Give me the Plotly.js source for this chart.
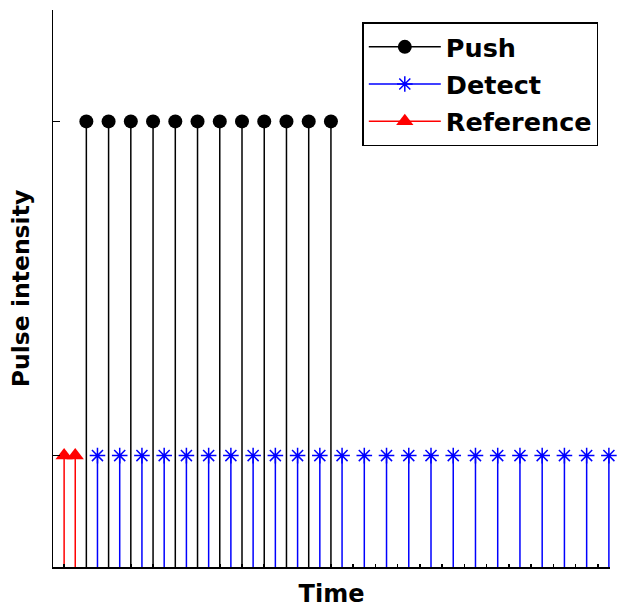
<!DOCTYPE html>
<html>
<head>
<meta charset="utf-8">
<script src="https://cdn.plot.ly/plotly-3.0.1.min.js"></script>
<style>
  html, body { margin: 0; padding: 0; background: #fff; }
  #graph { width: 624px; height: 614px; }
</style>
</head>
<body>
<div id="graph"></div>
<script>
// pulse sequence: reference pulses, then alternating push / detect pulses
var refTimes = [1, 2];
var refLevel = 1;
var pushTimes = [3, 5, 7, 9, 11, 13, 15, 17, 19, 21, 23, 25];
var pushLevel = 4;
var detectTimes = [4, 6, 8, 10, 12, 14, 16, 18, 20, 22, 24, 26,
                   28, 30, 32, 34, 36, 38, 40, 42, 44, 46, 48, 50];
var detectLevel = 1;
var seriesNames = ["Push", "Detect", "Reference"];

var FONT = "DejaVu Sans, Arial, sans-serif";

// vertical stems from 0 up to the pulse level, separated by gaps
function stemLines(times, level, color) {
    var x = [], y = [];
    times.forEach(function (t) {
        x.push(t, t, null);
        y.push(0, level, null);
    });
    return {
        x: x, y: y,
        mode: "lines", type: "scatter",
        line: { color: color, width: 1.5 },
        hoverinfo: "skip",
        showlegend: false
    };
}

// markers on top of each stem; nulls keep them unconnected but the legend still shows line + marker
function stemTops(times, level, name, color, marker, group) {
    var x = [], y = [];
    times.forEach(function (t) {
        x.push(t, null);
        y.push(level, null);
    });
    return {
        x: x, y: y,
        mode: "lines+markers", type: "scatter",
        connectgaps: false,
        line: { color: color, width: 1.5 },
        marker: marker,
        cliponaxis: false,
        name: name,
        legendgroup: group
    };
}

var dataArray = [
    stemLines(pushTimes, pushLevel, "black"),
    stemLines(detectTimes, detectLevel, "blue"),
    stemLines(refTimes, refLevel, "red"),
    stemTops(pushTimes, pushLevel, seriesNames[0], "black",
        { symbol: "circle", size: 14, color: "black" }, "a"),
    stemTops(detectTimes, detectLevel, seriesNames[1], "blue",
        { symbol: "asterisk-open", size: 13, color: "blue", line: { color: "blue", width: 1.5 } }, "b"),
    stemTops(refTimes, refLevel, seriesNames[2], "red",
        { symbol: "triangle-up", size: 15, color: "red" }, "c")
];

var layout = {
    width: 624,
    height: 614,
    margin: { l: 53, r: 14, t: 10, b: 47 },
    paper_bgcolor: "white",
    plot_bgcolor: "white",
    showlegend: true,
    legend: {
        x: 0.979, y: 0.978,
        xanchor: "right", yanchor: "top",
        bgcolor: "white",
        bordercolor: "black",
        borderwidth: 1.5,
        tracegroupgap: 1,
        itemwidth: 72,
        font: { family: FONT, size: 25.5, color: "black", weight: "bold" }
    },
    xaxis: {
        range: [0, 50.1],
        showline: true, linecolor: "black", linewidth: 1.5,
        showgrid: false, zeroline: false,
        ticks: "inside", tickmode: "linear", tick0: 1, dtick: 2,
        ticklen: 3, tickwidth: 1.5, tickcolor: "black",
        showticklabels: false,
        title: {
            text: "Time",
            standoff: 17,
            font: { family: FONT, size: 24, color: "black", weight: "bold" }
        }
    },
    yaxis: {
        range: [0, 5],
        showline: true, linecolor: "black", linewidth: 1.5,
        showgrid: false, zeroline: false,
        ticks: "inside", tickmode: "array", tickvals: [detectLevel, pushLevel],
        ticklen: 7, tickwidth: 1.5, tickcolor: "black",
        showticklabels: false,
        title: {
            text: "Pulse intensity",
            standoff: 15,
            font: { family: FONT, size: 23.5, color: "black", weight: "bold" }
        }
    }
};

Plotly.newPlot(document.getElementById("graph"), dataArray, layout, { displayModeBar: false, staticPlot: true });
</script>
</body>
</html>
